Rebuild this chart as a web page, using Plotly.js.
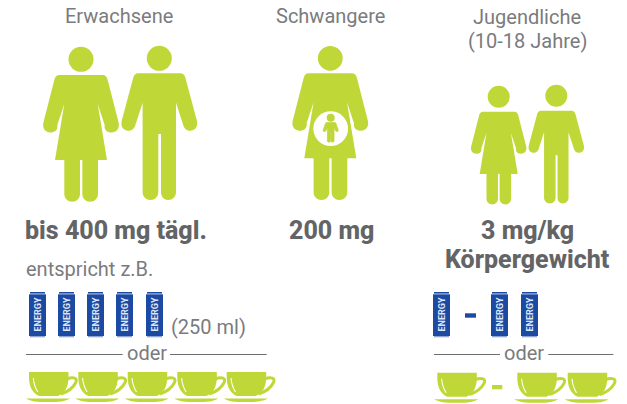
<!DOCTYPE html>
<html><head><meta charset="utf-8">
<script src="https://cdn.plot.ly/plotly-3.0.1.min.js"></script>
<style>html,body{margin:0;padding:0;background:#fff}</style></head>
<body><div id="chart" style="width:627px;height:404px"></div>
<script>
// group labels and doses
const groupLabels = ["Erwachsene", "Schwangere", "Jugendliche", "(10-18 Jahre)"];
const doseLabels = ["bis 400 mg tägl.", "200 mg", "3 mg/kg", "Körpergewicht"];
const equivalentLabel = "entspricht z.B.";
const canLabel = "ENERGY";
const canVolumeLabel = "(250 ml)";
const orLabel = "oder";
// icon anchors
const adultCansLeft = [29, 58, 87, 116, 146];
const teenCansLeft = [433, 491, 521];
const adultCupsLeft = [29, 78.3, 127.7, 177.3, 226.7];
const teenCupsLeft = [437.3, 517.3, 567.7];

const GREEN = "#bfd737", BLUE = "#1c4aa3", LIGHTBLUE = "#8fa6d4", GREY = "#7a7b7e", DARK = "#636466", LINE = "#6d6e70";
const FONT = "Roboto, 'Open Sans', sans-serif";

const womanPath = "M-21.7,0 L21.7,0 Q25.5,0 26.7,5 L37.6,47.5 C39,54 35,57.5 30.7,57.5 C26.5,57.5 22.7,55 23.7,50 L16.7,29 L26,85 L17,85 L17,119 C17,123.5 13.5,126.7 9.2,126.7 C4.8,126.7 1.3,123.5 1.3,119 L1.3,85 L-1,85 L-1,119 C-1,123.5 -4.5,126.7 -8.8,126.7 C-13,126.7 -16.7,123.5 -16.7,119 L-16.7,85 L-26,85 L-16.7,29 L-23.7,50 C-22.7,55 -26.5,57.5 -30.7,57.5 C-35,57.5 -39,54 -37.6,47.5 L-26.7,5 Q-25.5,0 -21.7,0 Z";
const manPath = "M-21,0 L21,0 Q25,0 26.2,5 L37.6,47.5 C39,54 35.2,57.5 31,57.5 C27,57.5 24.6,55 23.7,51 L16.7,29.4 L16.7,119 C16.7,123.5 13.2,126.7 9,126.7 C4.8,126.7 1.7,123.5 1.7,119 L1.7,60.7 L-1,60.7 L-1,119 C-1,123.5 -4.5,126.7 -8.8,126.7 C-13,126.7 -16.7,123.5 -16.7,119 L-16.7,29.4 L-23.7,51 C-24.6,55 -27,57.5 -31,57.5 C-35.2,57.5 -39,54 -37.6,47.5 L-26.2,5 Q-25,0 -21,0 Z";
const cupBody = "M0,0 L39.5,0 L39.5,5 C39.5,15 36,21 29,24 L10,24 C3,21 0,14 0,5 Z";
const cupHandle = "M38,7 C44,4.5 49.5,6 46.5,11 C44,16 38,20 32,22";
const cupShine = "M4.3,6 C4.8,12 6.3,16 8.8,20";
const saucer = "M-3,26.5 L41,26.5 C36,29.5 30,30 19,30 C8,30 2,29.5 -3,26.5 Z";

function tf(path, ox, oy, sx, sy) {
  return path.replace(/(-?[\d.]+),(-?[\d.]+)/g, (m, a, b) =>
    (ox + parseFloat(a) * sx).toFixed(2) + "," + (oy + parseFloat(b) * sy).toFixed(2));
}
const shapes = [];
const base = {xref: "x", yref: "y"};
function fillPath(p, color, w) { shapes.push({...base, type: "path", path: p, fillcolor: color, line: w ? {color: color, width: w} : {width: 0}}); }
function strokePath(p, color, w) { shapes.push({...base, type: "path", path: p, fillcolor: "rgba(0,0,0,0)", line: {color: color, width: w}}); }
function circle(cx, cy, r, color) { shapes.push({...base, type: "circle", x0: cx - r, x1: cx + r, y0: cy - r, y1: cy + r, fillcolor: color, line: {width: 0}}); }
function rect(x0, y0, x1, y1, color) { shapes.push({...base, type: "rect", x0, x1, y0, y1, fillcolor: color, line: {width: 0}}); }
function hline(x0, x1, y) { shapes.push({...base, type: "line", x0, x1, y0: y, y1: y, line: {color: LINE, width: 1}}); }

function person(tpl, x, topY, scale, headY, headR) {
  circle(x, headY, headR, GREEN);
  fillPath(tf(tpl, x, topY, scale, scale), GREEN);
}
person(womanPath, 81, 75, 1, 59.3, 12.5);
person(manPath, 159.3, 73.3, 1, 58.3, 12.5);
person(womanPath, 330.3, 73.3, 1, 58.3, 12.4);
person(womanPath, 498.7, 111.7, 0.732, 96.7, 11);
person(manPath, 556.3, 110.7, 0.732, 95.7, 11);
// baby in belly
circle(330.7, 128.7, 17.4, "#ffffff");
circle(330.7, 117.7, 4, GREEN);
fillPath(tf(manPath, 330.7, 122.6, 0.2, 0.155), GREEN, 0.7);

const annotations = [];
function label(text, x, y, size, color, weight, angle) {
  annotations.push({xref: "x", yref: "y", x, y, text, showarrow: false, textangle: angle || 0,
    xanchor: "center", yanchor: "middle", font: {family: FONT, size, color, weight: weight || 400}});
}
function can(x) {
  rect(x + 1, 292, x + 16, 293.6, BLUE);
  rect(x, 294.3, x + 17, 336, BLUE);
  rect(x + 1, 336, x + 16, 337.3, LIGHTBLUE);
  label(canLabel, x + 8.5, 315, 9, "#dfe6f3", 700, -90);
}
function cup(x, y) {
  fillPath(tf(cupBody, x, y, 1, 1), GREEN);
  strokePath(tf(cupHandle, x, y, 1, 1), GREEN, 3);
  strokePath(tf(cupShine, x, y, 1, 1), "#ffffff", 1.1);
  fillPath(tf(saucer, x, y, 1, 1), GREEN);
}
adultCansLeft.forEach(can);
teenCansLeft.forEach(can);
adultCupsLeft.forEach(x => cup(x, 372));
teenCupsLeft.forEach(x => cup(x, 372.7));
rect(465, 313.3, 476, 317.7, BLUE);
rect(492, 385, 502.3, 389.3, GREEN);
hline(26, 122.7, 354.5); hline(170, 266.7, 354.5);
hline(434, 500, 354.5); hline(548.3, 613.3, 354.5);

label(groupLabels[0], 119, 16, 20, GREY);
label(groupLabels[1], 330, 16, 20, GREY);
label(groupLabels[2], 527, 17, 20, GREY);
label(groupLabels[3], 527, 41, 20, GREY);
label(doseLabels[0], 116, 230.5, 25, DARK, 800);
label(doseLabels[1], 331, 230.5, 25, DARK, 800);
label(doseLabels[2], 527, 230.5, 25, DARK, 800);
label(doseLabels[3], 527, 259.5, 25, DARK, 800);
label(equivalentLabel, 89, 269, 20, GREY);
label(canVolumeLabel, 208, 327, 20, GREY);
label(orLabel, 146.5, 353, 20, GREY);
label(orLabel, 524, 353, 20, GREY);

const data = [{x: [], y: [], type: "scatter", mode: "markers", hoverinfo: "skip", showlegend: false}];
const layout = {
  width: 627, height: 404, margin: {l: 0, r: 0, t: 0, b: 0},
  paper_bgcolor: "#fff", plot_bgcolor: "#fff", showlegend: false,
  xaxis: {range: [0, 627], visible: false, fixedrange: true},
  yaxis: {range: [404, 0], visible: false, fixedrange: true},
  shapes, annotations
};
Plotly.newPlot("chart", data, layout, {staticPlot: true, displayModeBar: false});
</script></body></html>
